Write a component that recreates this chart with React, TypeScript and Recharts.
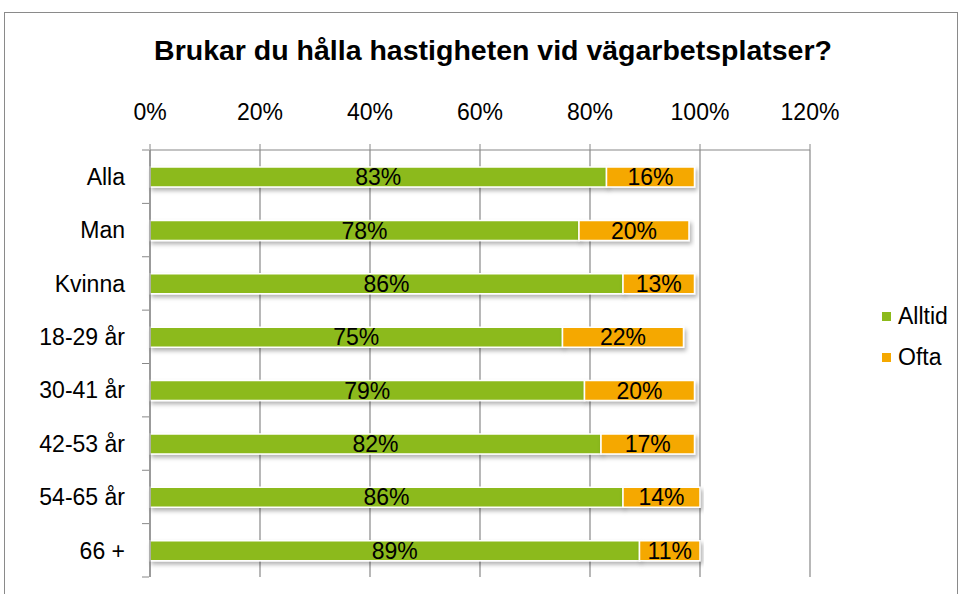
import React from 'react';
import { BarChart, Bar, XAxis, YAxis, CartesianGrid, LabelList } from 'recharts';

const categories = ['Alla', 'Man', 'Kvinna', '18-29 år', '30-41 år', '42-53 år', '54-65 år', '66 +'];
const alltid = [0.83, 0.78, 0.86, 0.75, 0.79, 0.82, 0.86, 0.89];
const ofta = [0.16, 0.20, 0.13, 0.22, 0.20, 0.17, 0.14, 0.11];
const xTicks = [0, 0.2, 0.4, 0.6, 0.8, 1.0, 1.2];

const GREEN = '#8cba1b';
const ORANGE = '#f5a800';
const GRID = '#888888';
const FONT = '"Liberation Sans", Arial, sans-serif';
const FS = 23;

const W = 965;
const H = 594;
const margin = { top: 110, right: 155, bottom: 17, left: 0 };
const xAxisHeight = 40;
const plotH = H - margin.top - xAxisHeight - margin.bottom;

const data = categories.map((name, i) => ({ name, alltid: alltid[i], ofta: ofta[i] }));

const pct = (v: number) => `${Math.round(v * 100)}%`;

const CategoryTick = (props: any) => {
  const { x, y, payload, index } = props;
  const band = plotH / categories.length;
  return (
    <g>
      <text x={x - 17} y={y} dy="0.36em" textAnchor="end" fontSize={FS} fill="#000" fontFamily={FONT}>
        {payload.value}
      </text>
      <line x1={x} x2={x + 7} y1={y - band / 2} y2={y - band / 2} stroke={GRID} />
      {index === categories.length - 1 && (
        <line x1={x} x2={x + 7} y1={y + band / 2} y2={y + band / 2} stroke={GRID} />
      )}
    </g>
  );
};

const LegendBox = () => (
  <div style={{ position: 'absolute', left: 882, top: 301, fontFamily: FONT, fontSize: FS }}>
    {[{ label: 'Alltid', color: GREEN }, { label: 'Ofta', color: ORANGE }].map((it) => (
      <div key={it.label} style={{ display: 'flex', alignItems: 'center', height: 30, marginBottom: 11 }}>
        <span style={{ width: 9, height: 9, background: it.color, marginRight: 7, display: 'inline-block' }} />
        <span>{it.label}</span>
      </div>
    ))}
  </div>
);

export default function App() {
  return (
    <div style={{ position: 'absolute', left: 0, top: 0, width: W, height: H, background: '#fff', overflow: 'hidden' }}>
      <div
        style={{
          position: 'absolute', left: 4, top: 12, width: 954, height: 600,
          border: '1px solid #8a8a8a', boxSizing: 'border-box',
        }}
      />
      <div
        style={{
          position: 'absolute', left: 0, top: 34, width: 986, textAlign: 'center',
          fontFamily: FONT, fontWeight: 'bold', fontSize: 28.5,
        }}
      >
        Brukar du hålla hastigheten vid vägarbetsplatser?
      </div>
      <div style={{ position: 'absolute', left: 0, top: 0 }}>
        <BarChart width={W} height={H} data={data} layout="vertical" margin={margin} barSize={20}>
          <defs>
            <filter id="shadow" x="-5%" y="-30%" width="110%" height="180%">
              <feDropShadow dx="2" dy="3" stdDeviation="2" floodColor="#000" floodOpacity="0.3" />
            </filter>
          </defs>
          <CartesianGrid horizontal={false} vertical stroke={GRID} strokeWidth={1.2} />
          <XAxis
            type="number"
            orientation="top"
            domain={[0, 1.2]}
            ticks={xTicks}
            tickFormatter={pct}
            height={xAxisHeight}
            axisLine={{ stroke: GRID, strokeWidth: 1.2 }}
            tickLine={{ stroke: GRID }}
            tickSize={6}
            tickMargin={24}
            tick={{ fill: '#000', fontSize: FS, fontFamily: FONT }}
          />
          <YAxis
            type="category"
            dataKey="name"
            width={150}
            axisLine={{ stroke: GRID, strokeWidth: 1.2 }}
            tickLine={false}
            tick={<CategoryTick />}
            interval={0}
          />
          <Bar dataKey="alltid" stackId="a" fill={GREEN} stroke="#fff" strokeWidth={1.5} isAnimationActive={false} filter="url(#shadow)">
            <LabelList dataKey="alltid" position="center" formatter={(v: any) => pct(v)} fill="#000" fontSize={FS} fontFamily={FONT} />
          </Bar>
          <Bar dataKey="ofta" stackId="a" fill={ORANGE} stroke="#fff" strokeWidth={1.5} isAnimationActive={false} filter="url(#shadow)">
            <LabelList dataKey="ofta" position="center" formatter={(v: any) => pct(v)} fill="#000" fontSize={FS} fontFamily={FONT} />
          </Bar>
        </BarChart>
      </div>
      <LegendBox />
    </div>
  );
}
